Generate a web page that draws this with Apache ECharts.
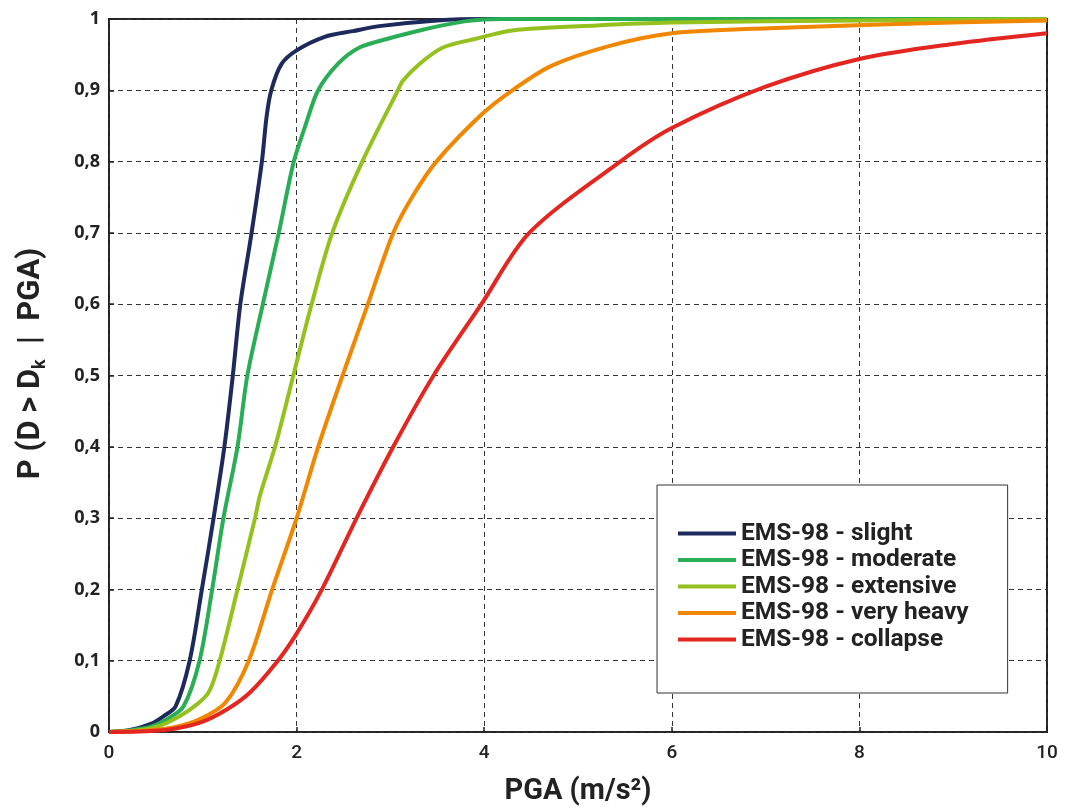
<!DOCTYPE html>
<html>
<head>
<meta charset="utf-8">
<script src="https://cdn.jsdelivr.net/npm/echarts@6/dist/echarts.min.js"></script>
<style>
html,body{margin:0;padding:0;background:#fff;}
#chart{width:1065px;height:811px;}
</style>
</head>
<body>
<div id="chart"></div>
<script>
// Series data: [PGA (m/s2), probability]
const slight = [[0,0],[0.2,0.002],[0.44,0.011],[0.58,0.022],[0.71,0.036],[0.86,0.1],[0.99,0.2],[1.115,0.3],[1.23,0.4],[1.32,0.5],[1.40,0.6],[1.52,0.7],[1.63,0.8],[1.68,0.863],[1.73,0.9],[1.84,0.937],[2.0,0.956],[2.3,0.975],[2.6,0.983],[2.88,0.99],[3.5,0.998],[4,1],[10,1]];
const moderate = [[0,0],[0.2,0.002],[0.44,0.007],[0.62,0.018],[0.795,0.036],[0.965,0.1],[1.10,0.2],[1.22,0.3],[1.37,0.4],[1.475,0.5],[1.64,0.6],[1.81,0.7],[1.97,0.8],[2.09,0.849],[2.23,0.9],[2.44,0.937],[2.67,0.96],[2.99,0.973],[3.345,0.985],[3.81,0.997],[4.2,1],[10,1]];
const extensive = [[0,0],[0.2,0.001],[0.44,0.005],[0.62,0.013],[0.87,0.032],[1.06,0.055],[1.18,0.1],[1.37,0.2],[1.557,0.3],[1.61,0.332],[1.77,0.4],[1.965,0.5],[2.16,0.6],[2.38,0.7],[2.70,0.8],[3.08,0.9],[3.13,0.913],[3.31,0.937],[3.56,0.96],[3.9,0.972],[4.3,0.984],[5.2,0.991],[6,0.995],[8,0.998],[10,1]];
const veryHeavy = [[0,0],[0.4,0.002],[0.71,0.007],[0.97,0.018],[1.24,0.041],[1.49,0.1],[1.74,0.2],[2.0,0.3],[2.23,0.4],[2.49,0.5],[2.76,0.6],[3.03,0.7],[3.24,0.752],[3.49,0.8],[3.98,0.867],[4.3,0.9],[4.71,0.934],[5.33,0.962],[6,0.98],[7.04,0.987],[8.4,0.993],[10,0.998]];
const collapse = [[0,0],[0.4,0.001],[0.71,0.005],[0.97,0.013],[1.26,0.032],[1.50,0.055],[1.80,0.1],[2.0,0.138],[2.27,0.2],[2.64,0.3],[3.03,0.4],[3.46,0.5],[3.97,0.6],[4.48,0.7],[5.45,0.8],[6.0,0.847],[7.0,0.905],[8.0,0.944],[9.0,0.965],[10,0.98]];

const seriesNames = ['EMS-98 - slight','EMS-98 - moderate','EMS-98 - extensive','EMS-98 - very heavy','EMS-98 - collapse'];
const seriesColors = ['#1f2a5c','#2aae55','#95c11f','#f18700','#e3261f'];
const seriesData = [slight, moderate, extensive, veryHeavy, collapse];

const xTicks = [0,2,4,6,8,10];
const yTicks = [0,0.1,0.2,0.3,0.4,0.5,0.6,0.7,0.8,0.9,1];

const chart = echarts.init(document.getElementById('chart'), null, {renderer:'canvas'});
const gridLine = {show:true, lineStyle:{color:'#333', type:[5,4], width:1}};

chart.setOption({
  animation:false,
  backgroundColor:'#fff',
  grid:{left:109, width:938, top:19, height:721, show:true, borderColor:'#222', borderWidth:2, backgroundColor:'transparent'},
  xAxis:{
    type:'value', min:0, max:10, interval:2,
    name:'PGA (m/s²)', nameLocation:'middle', nameGap:45,
    nameTextStyle:{fontFamily:'Roboto', fontWeight:'bold', fontSize:29, color:'#222'},
    axisLine:{show:false}, axisTick:{show:true, inside:true, length:5, lineStyle:{color:'#222', width:1.5}},
    axisLabel:{fontFamily:'Roboto', fontWeight:500, fontSize:19, color:'#222', margin:12},
    splitLine:gridLine
  },
  yAxis:{
    type:'value', min:0, max:1, interval:0.1,
    name:'{a|P (D > D}{k|k}{a|  |  PGA)}', nameLocation:'middle', nameGap:60,
    nameTextStyle:{padding:[0,0,0,24], rich:{a:{fontFamily:'Roboto', fontWeight:'bold', fontSize:31, color:'#222'}, k:{fontFamily:'Roboto', fontWeight:'bold', fontSize:18, color:'#222', padding:[18,0,0,0]}}},
    axisLine:{show:false}, axisTick:{show:true, inside:true, length:5, lineStyle:{color:'#222', width:1.5}},
    axisLabel:{fontFamily:'Open Sans', fontWeight:'bold', fontSize:18, color:'#222', margin:9,
      formatter:function(v){ return (Math.round(v*10)/10).toString().replace('.', ','); }},
    splitLine:gridLine
  },
  legend:{
    show:true, orient:'vertical', left:657, top:485,
    backgroundColor:'#fff', borderColor:'#333', borderWidth:1,
    padding:[36,39,41,21], itemGap:1.5,
    itemWidth:58, itemHeight:4, icon:'rect',
    textStyle:{fontFamily:'Roboto', fontWeight:'bold', fontSize:24.5, color:'#222'},
    data:seriesNames
  },
  series: seriesData.map(function(d,i){
    return {type:'line', name:seriesNames[i], data:d, showSymbol:false, smooth:0.3,
      color:seriesColors[i], lineStyle:{width:4, color:seriesColors[i]}, z:3};
  })
});
</script>
</body>
</html>
